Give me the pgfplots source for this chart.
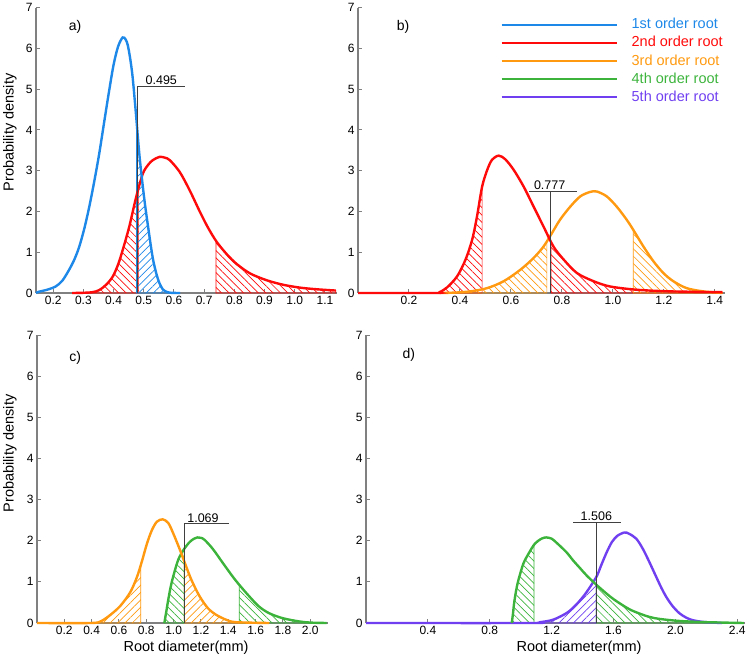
\documentclass[border=0pt]{standalone}
\usepackage{fontspec}
\setmainfont{Liberation Sans}
\usepackage{pgfplots}
\pgfplotsset{compat=1.18}
\usetikzlibrary{patterns.meta}

\definecolor{c1}{RGB}{30,136,232}
\definecolor{c2}{RGB}{255,10,10}
\definecolor{c3}{RGB}{255,154,16}
\definecolor{c4}{RGB}{60,180,60}
\definecolor{c5}{RGB}{112,64,240}
\definecolor{axgray}{RGB}{128,128,128}

\tikzset{
 plab/.style={font=\fontsize{14}{16}\selectfont},
 alab/.style={font=\fontsize{12.5}{14}\selectfont, anchor=south, inner sep=1.5pt},
}
\pgfplotsset{
 panel/.style={
  scale only axis, clip=false,
  axis x line=bottom, axis y line=left,
  axis line style={axgray, line width=1.6pt, -},
  tick style={axgray, line width=1pt},
  tick align=inside, major tick length=4pt,
  ymin=0, ymax=7, ytick={0,1,2,3,4,5,6,7},
  tick label style={font=\fontsize{12}{14}\selectfont},
  /pgf/number format/assume math mode=true,
  xticklabel style={/pgf/number format/.cd, fixed, fixed zerofill, precision=1},
  label style={font=\fontsize{14.5}{17}\selectfont},
 },
 curve/.style={line width=2.4pt, smooth, no markers},
 hatchL/.style={smooth, no markers, pattern={Lines[angle=-45,distance=5.2pt,line width=0.7pt]}, pattern color=#1, draw=#1, line width=0.7pt},
 hatchR/.style={smooth, no markers, pattern={Lines[angle=45,distance=5.2pt,line width=0.7pt]}, pattern color=#1, draw=#1, line width=0.7pt},
 annot/.style={draw=black!75, line width=0.9pt, no markers, sharp plot},
}

\begin{document}
\begin{tikzpicture}
\useasboundingbox (0,0) rectangle (750pt,667pt);

% ---------------- panel a ----------------
\begin{axis}[panel, at={(36pt,374pt)}, anchor=south west, width=301pt, height=285.3pt,
  xmin=0.143, xmax=1.14, xtick={0.2,0.3,0.4,0.5,0.6,0.7,0.8,0.9,1.0,1.1},
  ylabel={Probability density},
  ylabel style={at={(axis description cs:-0.0864,0.5626)}, anchor=center}]
% hatched areas
\addplot[hatchL=c2] coordinates {(0.263,0)(0.30,0.005)(0.33,0.02)(0.352,0.07)(0.375,0.2)(0.397,0.4)(0.415,0.7)(0.43,1.05)(0.452,1.63)(0.475,2.36)(0.483,2.55)} \closedcycle;
\addplot[hatchL=c2] coordinates {(0.739,1.28)(0.775,0.93)(0.808,0.69)(0.852,0.48)(0.908,0.32)(0.963,0.2)(1.019,0.13)(1.075,0.09)(1.136,0.06)} \closedcycle;
\addplot[hatchR=c1] coordinates {(0.476,4.22)(0.486,3.35)(0.502,2.29)(0.519,1.38)(0.53,0.85)(0.541,0.49)(0.552,0.24)(0.563,0.09)(0.575,0.03)(0.59,0.005)(0.62,0)} \closedcycle;
% curves
\addplot[curve, c2] coordinates {
(0.263,0)(0.30,0.005)(0.33,0.02)(0.352,0.07)(0.375,0.2)(0.397,0.4)(0.415,0.7)(0.43,1.05)(0.452,1.63)(0.475,2.36)(0.497,2.93)(0.515,3.15)(0.53,3.26)(0.552,3.34)(0.57,3.32)(0.586,3.26)(0.619,2.97)(0.652,2.52)(0.686,1.99)(0.713,1.6)(0.741,1.26)(0.775,0.95)(0.808,0.71)(0.852,0.48)(0.908,0.31)(0.963,0.2)(1.019,0.13)(1.075,0.09)(1.136,0.06)};
\addplot[curve, c1] coordinates {
(0.143,0)(0.152,0.03)(0.18,0.08)(0.208,0.16)(0.23,0.3)(0.252,0.56)(0.27,0.82)(0.286,1.13)(0.303,1.58)(0.319,2.1)(0.335,2.7)(0.352,3.4)(0.37,4.25)(0.385,4.95)(0.40,5.6)(0.415,6.05)(0.43,6.27)(0.44,6.22)(0.447,6.08)(0.455,5.75)(0.463,5.3)(0.474,4.4)(0.486,3.35)(0.502,2.29)(0.519,1.38)(0.53,0.85)(0.541,0.49)(0.552,0.24)(0.563,0.09)(0.575,0.03)(0.59,0.005)(0.62,0)};
\addplot[annot] coordinates {(0.479,0) (0.479,5.08) (0.636,5.08)};
\node[alab] at (axis cs:0.558,5.08) {0.495};
\node[plab] at (axis description cs:0.13,0.932) {a)};
\end{axis}

% ---------------- panel b ----------------
\begin{axis}[panel, at={(358pt,374pt)}, anchor=south west, width=367pt, height=285.3pt,
  xmin=0, xmax=1.44, xtick={0.2,0.4,0.6,0.8,1.0,1.2,1.4},
  legend style={draw=none, fill=none, at={(axis description cs:0.38,0.974)}, anchor=north west,
    font=\fontsize{14.5}{17}\selectfont, row sep=2.6pt, column sep=13pt,
    nodes={inner sep=1pt, text height=10.5pt, text depth=3pt}},
  legend cell align=left,
  legend image code/.code={\draw[#1, line width=2pt] (0pt,0pt) -- (115pt,0pt);}]
\addplot[hatchL=c2, forget plot] coordinates {(0.30,0)(0.32,0.02)(0.35,0.14)(0.389,0.41)(0.422,0.82)(0.448,1.31)(0.467,1.88)(0.487,2.61)} \closedcycle;
\addplot[hatchL=c2, forget plot] coordinates {(0.757,1.27)(0.767,1.14)(0.807,0.82)(0.859,0.49)(0.924,0.29)(0.989,0.16)(1.093,0.08)(1.224,0.04)(1.43,0.02)} \closedcycle;
\addplot[hatchL=c3, forget plot] coordinates {(0.32,0)(0.38,0.01)(0.441,0.04)(0.507,0.12)(0.572,0.29)(0.637,0.57)(0.689,0.86)(0.728,1.14)(0.741,1.27)} \closedcycle;
\addplot[hatchL=c3, forget plot] coordinates {(1.08,1.55)(1.12,1.14)(1.159,0.78)(1.198,0.49)(1.237,0.29)(1.289,0.12)(1.354,0.04)(1.43,0)} \closedcycle;
\addplot[curve, c3, forget plot] coordinates {
(0.32,0)(0.38,0.01)(0.441,0.04)(0.507,0.12)(0.572,0.29)(0.637,0.57)(0.689,0.86)(0.728,1.14)(0.761,1.47)(0.793,1.80)(0.833,2.12)(0.872,2.37)(0.911,2.48)(0.937,2.49)(0.976,2.37)(1.015,2.12)(1.054,1.80)(1.08,1.55)(1.12,1.14)(1.159,0.78)(1.198,0.49)(1.237,0.29)(1.289,0.12)(1.354,0.04)(1.43,0)};
\addplot[curve, c2, forget plot] coordinates {
(0,0)(0.30,0)(0.32,0.02)(0.35,0.14)(0.389,0.41)(0.422,0.82)(0.448,1.31)(0.467,1.88)(0.487,2.61)(0.507,3.02)(0.526,3.27)(0.552,3.37)(0.578,3.28)(0.611,3.02)(0.65,2.61)(0.689,2.12)(0.728,1.63)(0.767,1.14)(0.807,0.82)(0.859,0.49)(0.924,0.29)(0.989,0.16)(1.093,0.08)(1.224,0.04)(1.43,0.02)};
\addplot[annot, forget plot] coordinates {(0.754,0) (0.754,2.49)};
\addplot[annot, forget plot] coordinates {(0.67,2.49) (0.859,2.49)};
\node[alab] at (axis cs:0.752,2.49) {0.777};
\node[plab] at (axis description cs:0.123,0.932) {b)};
\addlegendimage{c1}
\addlegendentry{\textcolor{c1}{1st order root}}
\addlegendimage{c2}
\addlegendentry{\textcolor{c2}{2nd order root}}
\addlegendimage{c3}
\addlegendentry{\textcolor{c3}{3rd order root}}
\addlegendimage{c4}
\addlegendentry{\textcolor{c4}{4th order root}}
\addlegendimage{c5}
\addlegendentry{\textcolor{c5}{5th order root}}
\end{axis}

% ---------------- panel c ----------------
\begin{axis}[panel, at={(37pt,44pt)}, anchor=south west, width=291pt, height=288pt,
  xmin=0, xmax=2.13, xtick={0.2,0.4,0.6,0.8,1.0,1.2,1.4,1.6,1.8,2.0},
  ylabel={Probability density},
  ylabel style={at={(axis description cs:-0.0928,0.5885)}, anchor=center},
  xlabel={Root diameter(mm)},
  xlabel style={at={(axis description cs:0.512,-0.0868)}, anchor=center}]
\addplot[hatchR=c3] coordinates {(0.393,0)(0.466,0.04)(0.538,0.2)(0.611,0.42)(0.683,0.75)(0.732,1.12)(0.76,1.42)} \closedcycle;
\addplot[hatchR=c3] coordinates {(1.077,1.50)(1.082,1.46)(1.13,1.05)(1.19,0.65)(1.251,0.36)(1.311,0.2)(1.384,0.08)(1.456,0.02)(1.7,0)} \closedcycle;
\addplot[hatchL=c4] coordinates {(0.932,0)(0.945,0.25)(0.961,0.57)(0.978,0.87)(0.997,1.13)(1.034,1.54)(1.077,1.80)} \closedcycle;
\addplot[hatchL=c4] coordinates {(1.48,0.93)(1.553,0.65)(1.625,0.40)(1.698,0.24)(1.795,0.12)(1.915,0.04)(2.0,0.01)(2.12,0)} \closedcycle;
\addplot[curve, c4] coordinates {
(0.932,0)(0.945,0.25)(0.961,0.57)(0.978,0.87)(0.997,1.13)(1.034,1.54)(1.077,1.80)(1.118,1.97)(1.15,2.05)(1.174,2.08)(1.2,2.07)(1.227,2.02)(1.287,1.80)(1.36,1.46)(1.432,1.13)(1.48,0.93)(1.553,0.65)(1.625,0.40)(1.698,0.24)(1.795,0.12)(1.915,0.04)(2.0,0.01)(2.12,0)};
\addplot[curve, c3] coordinates {
(0,0)(0.393,0)(0.466,0.04)(0.538,0.2)(0.611,0.42)(0.683,0.75)(0.732,1.12)(0.768,1.5)(0.804,1.92)(0.84,2.25)(0.877,2.46)(0.92,2.52)(0.961,2.43)(0.997,2.18)(1.046,1.78)(1.082,1.46)(1.13,1.05)(1.19,0.65)(1.251,0.36)(1.311,0.2)(1.384,0.08)(1.456,0.02)(1.7,0)};
\addplot[annot] coordinates {(1.077,0) (1.077,2.41) (1.408,2.41)};
\node[alab] at (axis cs:1.215,2.41) {1.069};
\node[plab] at (axis description cs:0.131,0.92) {c)};
\end{axis}

% ---------------- panel d ----------------
\begin{axis}[panel, at={(366pt,44pt)}, anchor=south west, width=379pt, height=288pt,
  xmin=0, xmax=2.45, xtick={0.4,0.8,1.2,1.6,2.0,2.4},
  xlabel={Root diameter(mm)},
  xlabel style={at={(axis description cs:0.562,-0.0868)}, anchor=center}]
\addplot[hatchR=c5] coordinates {(1.06,0)(1.125,0.02)(1.21,0.08)(1.30,0.25)(1.36,0.45)(1.42,0.72)(1.489,1.12)} \closedcycle;
\addplot[hatchL=c4] coordinates {(0.942,0)(0.95,0.22)(0.957,0.47)(0.97,0.78)(0.985,1.04)(1.017,1.44)(1.05,1.68)(1.086,1.89)} \closedcycle;
\addplot[hatchL=c4] coordinates {(1.489,0.93)(1.553,0.72)(1.60,0.58)(1.66,0.43)(1.71,0.32)(1.768,0.23)(1.83,0.15)(1.896,0.10)(2.025,0.05)(2.2,0.02)(2.443,0)} \closedcycle;
\addplot[curve, c5] coordinates {
(0,0)(1.06,0)(1.125,0.02)(1.21,0.08)(1.30,0.25)(1.36,0.45)(1.42,0.72)(1.489,1.12)(1.52,1.4)(1.556,1.72)(1.59,1.97)(1.625,2.12)(1.671,2.2)(1.70,2.17)(1.747,2.05)(1.79,1.8)(1.832,1.48)(1.875,1.13)(1.91,0.85)(1.94,0.64)(1.98,0.42)(2.025,0.24)(2.07,0.13)(2.111,0.07)(2.17,0.03)(2.24,0.01)(2.30,0)};
\addplot[curve, c4] coordinates {
(0.942,0)(0.95,0.22)(0.957,0.47)(0.97,0.78)(0.985,1.04)(1.017,1.44)(1.05,1.68)(1.092,1.93)(1.135,2.05)(1.165,2.08)(1.2,2.05)(1.232,1.95)(1.296,1.72)(1.339,1.52)(1.382,1.34)(1.425,1.16)(1.489,0.93)(1.553,0.72)(1.60,0.58)(1.66,0.43)(1.71,0.32)(1.768,0.23)(1.83,0.15)(1.896,0.10)(2.025,0.05)(2.2,0.02)(2.443,0)};
\addplot[annot] coordinates {(1.489,0) (1.489,2.44)};
\addplot[annot] coordinates {(1.339,2.44) (1.65,2.44)};
\node[alab] at (axis cs:1.489,2.44) {1.506};
\node[plab] at (axis description cs:0.113,0.931) {d)};
\end{axis}
\end{tikzpicture}
\end{document}
